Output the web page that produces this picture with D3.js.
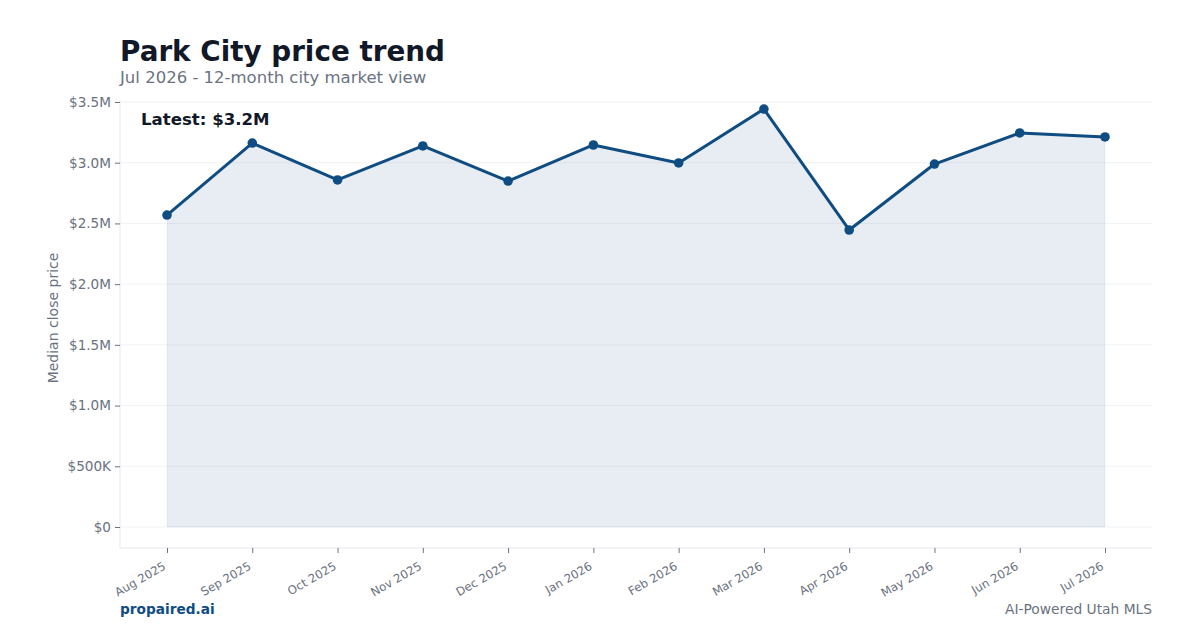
<!DOCTYPE html>
<html>
<head>
<meta charset="utf-8">
<script src="https://cdn.jsdelivr.net/npm/d3@7"></script>
<style>
  html, body { margin: 0; padding: 0; background: #fff; }
  svg { display: block; font-family: "DejaVu Sans", sans-serif; }
</style>
</head>
<body>
<svg id="chart" width="1200" height="630"></svg>
<script>
// monthly median close price (USD)
const months = ["Aug 2025", "Sep 2025", "Oct 2025", "Nov 2025", "Dec 2025", "Jan 2026",
                "Feb 2026", "Mar 2026", "Apr 2026", "May 2026", "Jun 2026", "Jul 2026"]
const prices = [2569000, 3162000, 2858000, 3138000, 2849000, 3146000,
                2998000, 3442000, 2446000, 2989000, 3245000, 3212000]
const yTicks = [0, 500000, 1000000, 1500000, 2000000, 2500000, 3000000, 3500000]

const navy = "#0f4c81"
const grey = "#6b7280"

// plot box
const box = {left: 120, right: 1152, top: 100, bottom: 548}

const svg = d3.select("#chart")

const x = d3.scalePoint()
    .domain(months)
    .range([167, 1105])
const y = d3.scaleLinear()
    .domain([0, 3500000])
    .range([527, 102])

const fmt = v => v === 0 ? "$0" : v < 1e6 ? `$${v / 1000}K` : `$${(v / 1e6).toFixed(1)}M`

// gridlines
svg.append("g")
    .selectAll("line")
    .data(yTicks)
  .enter().append("line")
    .attr("x1", box.left).attr("x2", box.right)
    .attr("y1", d => y(d)).attr("y2", d => y(d))
    .attr("stroke", "#eeeff1")
    .attr("stroke-width", 0.8)

// spines
svg.append("line")
    .attr("x1", box.left).attr("x2", box.left)
    .attr("y1", box.top).attr("y2", box.bottom)
    .attr("stroke", "#e5e7eb")
svg.append("line")
    .attr("x1", box.left).attr("x2", box.right)
    .attr("y1", box.bottom).attr("y2", box.bottom)
    .attr("stroke", "#e5e7eb")

// y axis
const yAxis = svg.append("g")
    .attr("transform", `translate(${box.left},0)`)
    .call(d3.axisLeft(y).tickValues(yTicks).tickFormat(fmt).tickSize(5).tickPadding(4))
yAxis.select(".domain").remove()
yAxis.selectAll("line").attr("stroke", grey)
yAxis.selectAll("text")
    .attr("fill", grey)
    .attr("font-size", 13.6)
    .attr("font-family", "DejaVu Sans")

// x axis, labels rotated like matplotlib (ha=right)
const xAxis = svg.append("g")
    .attr("transform", `translate(0,${box.bottom})`)
    .call(d3.axisBottom(x).tickSize(5).tickFormat(d => d))
xAxis.select(".domain").remove()
xAxis.selectAll("line").attr("stroke", grey)
xAxis.selectAll("text")
    .attr("fill", grey)
    .attr("font-size", 11.7)
    .attr("font-family", "DejaVu Sans")
    .attr("text-anchor", "end")
    .attr("x", 0)
    .attr("y", 0)
    .attr("dy", "0.35em")
    .attr("transform", "translate(-3,17) rotate(-30)")

// area + line
const area = d3.area()
    .x((d, i) => x(months[i]))
    .y0(y(0))
    .y1(d => y(d))
const line = d3.line()
    .x((d, i) => x(months[i]))
    .y(d => y(d))

svg.append("path")
    .attr("d", area(prices))
    .attr("fill", navy)
    .attr("fill-opacity", 0.1)
    .attr("stroke", navy)
    .attr("stroke-opacity", 0.06)

svg.append("path")
    .attr("d", line(prices))
    .attr("fill", "none")
    .attr("stroke", navy)
    .attr("stroke-width", 3)
    .attr("stroke-linejoin", "round")

svg.append("g")
    .selectAll("circle")
    .data(prices)
  .enter().append("circle")
    .attr("cx", (d, i) => x(months[i]))
    .attr("cy", d => y(d))
    .attr("r", 4.8)
    .attr("fill", navy)

// annotation
svg.append("text")
    .attr("x", 141).attr("y", 125)
    .attr("font-size", 16.6)
    .attr("font-weight", "bold")
    .attr("fill", "#111827")
    .text(`Latest: $${(prices[prices.length - 1] / 1e6).toFixed(1)}M`)

// y label
svg.append("text")
    .attr("transform", "translate(58,318) rotate(-90)")
    .attr("text-anchor", "middle")
    .attr("font-size", 14)
    .attr("fill", grey)
    .text("Median close price")

// titles
svg.append("text")
    .attr("x", 120).attr("y", 61)
    .attr("font-size", 27.8)
    .attr("font-weight", "bold")
    .attr("fill", "#111827")
    .text("Park City price trend")
svg.append("text")
    .attr("x", 120).attr("y", 83)
    .attr("font-size", 16.5)
    .attr("fill", grey)
    .text("Jul 2026 - 12-month city market view")

// footer
svg.append("text")
    .attr("x", 120).attr("y", 614)
    .attr("font-size", 13.7)
    .attr("font-weight", "bold")
    .attr("fill", navy)
    .text("propaired.ai")
svg.append("text")
    .attr("x", 1152).attr("y", 614)
    .attr("text-anchor", "end")
    .attr("font-size", 13.8)
    .attr("fill", grey)
    .text("AI-Powered Utah MLS")
</script>
</body>
</html>
